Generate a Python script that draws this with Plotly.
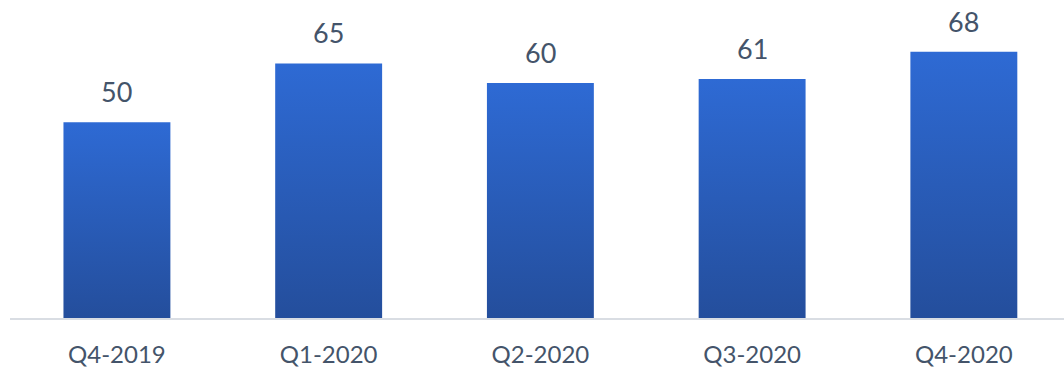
import plotly.graph_objects as go

categories = ["Q4-2019", "Q1-2020", "Q2-2020", "Q3-2020", "Q4-2020"]
values = [50, 65, 60, 61, 68]

BAR_W = 0.505
TOP_COLOR = "#2E6AD4"
BOT_COLOR = "#244E9C"
TEXT_COLOR = "#44546A"
FONT = "Lato"

fig = go.Figure()
for i, (cat, v) in enumerate(zip(categories, values)):
    x0, x1 = i - BAR_W / 2, i + BAR_W / 2
    fig.add_trace(go.Scatter(
        x=[x0, x1, x1, x0, x0],
        y=[0, 0, v, v, 0],
        mode="lines",
        line=dict(width=0),
        fill="toself",
        fillgradient=dict(type="vertical",
                          colorscale=[[0, BOT_COLOR], [1, TOP_COLOR]]),
        hoverinfo="text",
        text=f"{cat}: {v}",
        showlegend=False,
    ))
    fig.add_annotation(x=i, y=v, text=str(v), showarrow=False,
                       yanchor="bottom", yshift=12,
                       font=dict(family=FONT, size=27, color=TEXT_COLOR))

fig.update_layout(
    width=1064, height=368,
    margin=dict(l=10, r=0, t=0, b=50),
    paper_bgcolor="white", plot_bgcolor="white",
    xaxis=dict(
        range=[-0.505, 4.473],
        tickvals=list(range(len(categories))),
        ticktext=categories,
        showgrid=False, zeroline=False,
        showline=True, linecolor="#D9DDE3", linewidth=1.5,
        ticks="outside", ticklen=14, tickcolor="rgba(0,0,0,0)",
        tickfont=dict(family=FONT, size=24, color=TEXT_COLOR),
    ),
    yaxis=dict(range=[0, 81.2], visible=False, showgrid=False, zeroline=False),
)

fig.write_html("out.html", config={"displayModeBar": False},
               post_script="document.body.style.margin='0';document.body.style.overflow='hidden';")
